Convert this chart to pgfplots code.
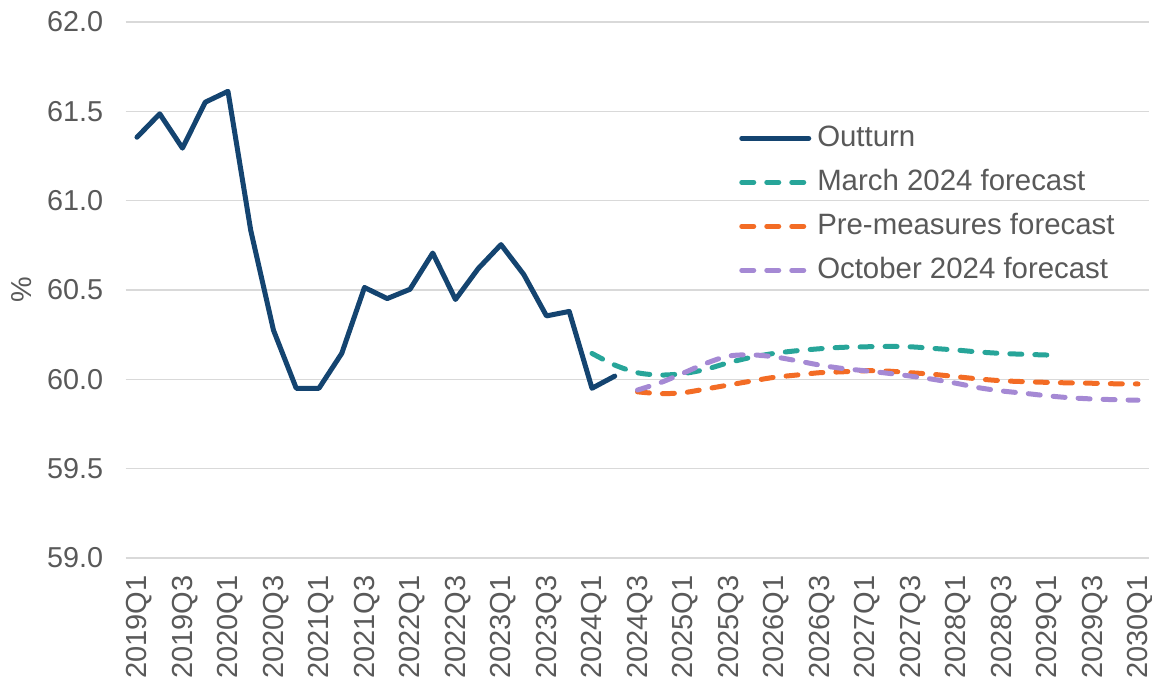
\documentclass[border=0pt]{standalone}
\usepackage{pgfplots}
\pgfplotsset{compat=1.18}
\usepackage{fontspec}
\setmainfont{Liberation Sans}
\definecolor{outturn}{HTML}{144470}
\definecolor{teal}{HTML}{27A599}
\definecolor{orng}{HTML}{F36C25}
\definecolor{purp}{HTML}{A589D4}
\definecolor{gridc}{HTML}{D9D9D9}
\definecolor{txt}{HTML}{595959}
\pgfplotstableread{
x y
0 61.355
1 61.486
2 61.294
3 61.551
4 61.612
5 60.834
6 60.275
7 59.950
8 59.950
9 60.145
10 60.514
11 60.452
12 60.504
13 60.707
14 60.447
15 60.620
16 60.754
17 60.587
18 60.355
19 60.380
20 59.950
21 60.018
}\outturn
\pgfplotstableread{
x y
20 60.145
21 60.080
22 60.037
23 60.024
24 60.032
25 60.056
26 60.093
27 60.123
28 60.145
29 60.160
30 60.171
31 60.179
32 60.182
33 60.184
34 60.182
35 60.173
36 60.164
37 60.153
38 60.145
39 60.140
40 60.136
}\march
\pgfplotstableread{
x y
22 59.930
23 59.920
24 59.925
25 59.946
26 59.968
27 59.990
28 60.011
29 60.024
30 60.037
31 60.042
32 60.048
33 60.046
34 60.037
35 60.028
36 60.015
37 60.002
38 59.992
39 59.987
40 59.983
41 59.980
42 59.978
43 59.975
44 59.974
}\premeas
\pgfplotstableread{
x y
22 59.940
23 59.981
24 60.034
25 60.089
26 60.130
27 60.137
28 60.126
29 60.104
30 60.080
31 60.061
32 60.048
33 60.034
34 60.018
35 60.000
36 59.978
37 59.953
38 59.935
39 59.922
40 59.908
41 59.897
42 59.890
43 59.886
44 59.883
}\october
\begin{document}
\begin{tikzpicture}
\begin{axis}[
  at={(0,0)}, anchor=south west,
  scale only axis,
  width=511.9pt, height=268pt,
  xmin=-0.5, xmax=44.5,
  ymin=59, ymax=62,
  ytick={59,59.5,...,62},
  xtick={0,2,...,44},
  xticklabels={2019Q1,2019Q3,2020Q1,2020Q3,2021Q1,2021Q3,2022Q1,2022Q3,2023Q1,2023Q3,2024Q1,2024Q3,2025Q1,2025Q3,2026Q1,2026Q3,2027Q1,2027Q3,2028Q1,2028Q3,2029Q1,2029Q3,2030Q1},
  axis line style={draw=none},
  tick style={draw=none},
  ymajorgrids,
  grid style={gridc, line width=0.75pt},
  yticklabel style={/pgf/number format/fixed, /pgf/number format/fixed zerofill, /pgf/number format/precision=1, /pgf/number format/assume math mode=true, anchor=east, inner sep=0pt, xshift=-11pt, font=\fontsize{14.4}{17}\selectfont, text=txt},
  xticklabel style={yshift=-8.5pt, xshift=1.1pt, rotate=90, anchor=east, inner sep=0pt, font=\fontsize{14.5}{17}\selectfont, text=txt},
  ylabel={\%},
  every axis y label/.style={at={(axis description cs:0,0.5)}, xshift=-51.8pt, rotate=90, anchor=center, font=\fontsize{14.4}{17}\selectfont, text=txt},
  legend cell align=left,
  legend style={at={(0.599,0.806)}, anchor=north west, draw=none, fill=none, inner sep=0pt,
    font=\fontsize{14.7}{17}\selectfont, text=txt, row sep=10pt,
    nodes={inner sep=0pt, text height=10.2pt, text depth=1.8pt},
    /tikz/every odd column/.style={column sep=3pt}},
  legend image code/.code={\draw[#1] (0pt,0pt) -- (33.5pt,0pt);},
]
\addplot[outturn, line width=2.5pt, line join=round, line cap=round] table {\outturn};
\addlegendentry{Outturn}
\addplot[teal, line width=2.5pt, smooth, line cap=round, dash pattern=on 6pt off 6.5pt] table {\march};
\addlegendentry{March 2024 forecast}
\addplot[orng, line width=2.5pt, smooth, line cap=round, dash pattern=on 6pt off 6.5pt] table {\premeas};
\addlegendentry{Pre-measures forecast}
\addplot[purp, line width=2.5pt, smooth, line cap=round, dash pattern=on 6pt off 6.5pt] table {\october};
\addlegendentry{October 2024 forecast}
\end{axis}
\pgfresetboundingbox
\useasboundingbox (-62.8pt,-62.5pt) rectangle (513.2pt,279pt);
\end{tikzpicture}
\end{document}
